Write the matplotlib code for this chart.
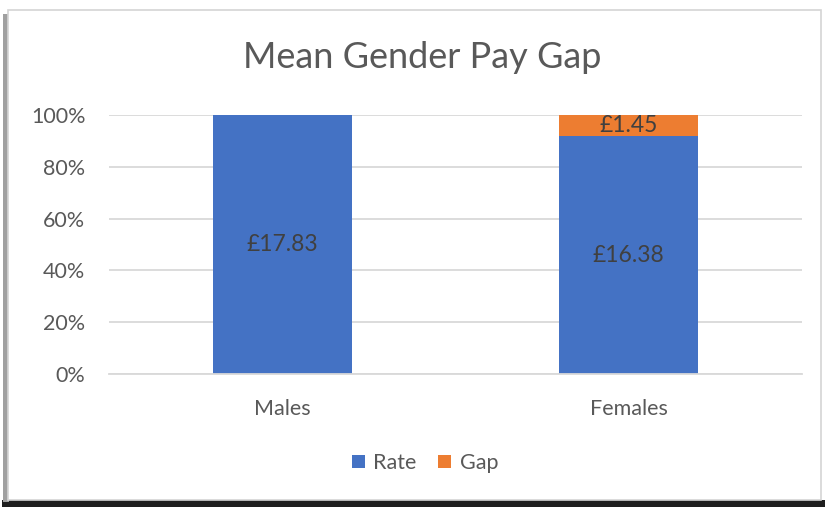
import matplotlib
matplotlib.use("Agg")
from matplotlib import pyplot as plt
from matplotlib.patches import Rectangle

categories = ["Males", "Females"]
rate = [17.83, 16.38]
gap = [0.0, 1.45]
y_ticks = [0, 20, 40, 60, 80, 100]

plt.rcParams['font.family'] = ['Lato', 'DejaVu Sans']
text_col = '#595959'
blue = '#4472C4'
orange = '#ED7D31'

W, H = 825, 508
fig = plt.figure(figsize=(W / 100, H / 100), dpi=100)


def frame_rect(x0, y0, x1, y1, **kw):
    # rectangle given in pixel coords (top-left origin)
    fig.patches.append(Rectangle((x0 / W, 1 - y1 / H), (x1 - x0) / W, (y1 - y0) / H,
                                 transform=fig.transFigure, zorder=-5, **kw))


# chart frame with shadow
frame_rect(2, 500, 825, 507, facecolor='#1e1e1e', edgecolor='none')
frame_rect(3, 14, 9, 502, facecolor='#a0a0a0', edgecolor='none')
frame_rect(8, 10, 821, 500, facecolor='white', edgecolor='#d4d4d4', lw=1.2)

ax = fig.add_axes([109 / W, 1 - 374 / H, 693 / W, 259 / H])
ax.set_facecolor('none')
ax.set_zorder(2)

totals = [r + g for r, g in zip(rate, gap)]
rate_pct = [100 * r / t for r, t in zip(rate, totals)]
gap_pct = [100 * g / t for g, t in zip(gap, totals)]
x = list(range(len(categories)))

ax.bar(x, rate_pct, width=0.4, color=blue, label='Rate', zorder=2)
ax.bar(x, gap_pct, width=0.4, bottom=rate_pct, color=orange, label='Gap', zorder=2)

for i in x:
    ax.text(i, rate_pct[i] / 2, f"£{rate[i]:.2f}", ha='center', va='center',
            fontsize=16.5, color='#404040', zorder=3)
    if gap[i] > 0:
        ax.text(i, rate_pct[i] + gap_pct[i] / 2, f"£{gap[i]:.2f}", ha='center', va='center',
                fontsize=16.5, color='#404040', zorder=3)

ax.set_xlim(-0.5, 1.5)
ax.set_ylim(0, 100)
ax.set_yticks(y_ticks)
ax.set_yticklabels([f"{t}%" for t in y_ticks])
ax.set_xticks(x)
ax.set_xticklabels(categories)
ax.tick_params(axis='both', length=0, labelsize=15.5, labelcolor=text_col)
ax.tick_params(axis='y', pad=17)
ax.tick_params(axis='x', pad=18)
ax.grid(axis='y', color='#d9d9d9', lw=1.3, zorder=0)
for s in ['top', 'right', 'left']:
    ax.spines[s].set_visible(False)
ax.spines['bottom'].set_color('#d9d9d9')
ax.spines['bottom'].set_linewidth(1.3)

fig.text(422 / W, 1 - 58 / H, "Mean Gender Pay Gap", ha='center', va='center',
         fontsize=26, color=text_col)

fig.legend(loc='center', bbox_to_anchor=(425 / W, 1 - 463 / H), ncol=2, frameon=False,
           fontsize=15.5, labelcolor=text_col, handlelength=0.6, handleheight=0.6,
           handletextpad=0.4, columnspacing=1.0)

fig.savefig('out.png', dpi=100)
